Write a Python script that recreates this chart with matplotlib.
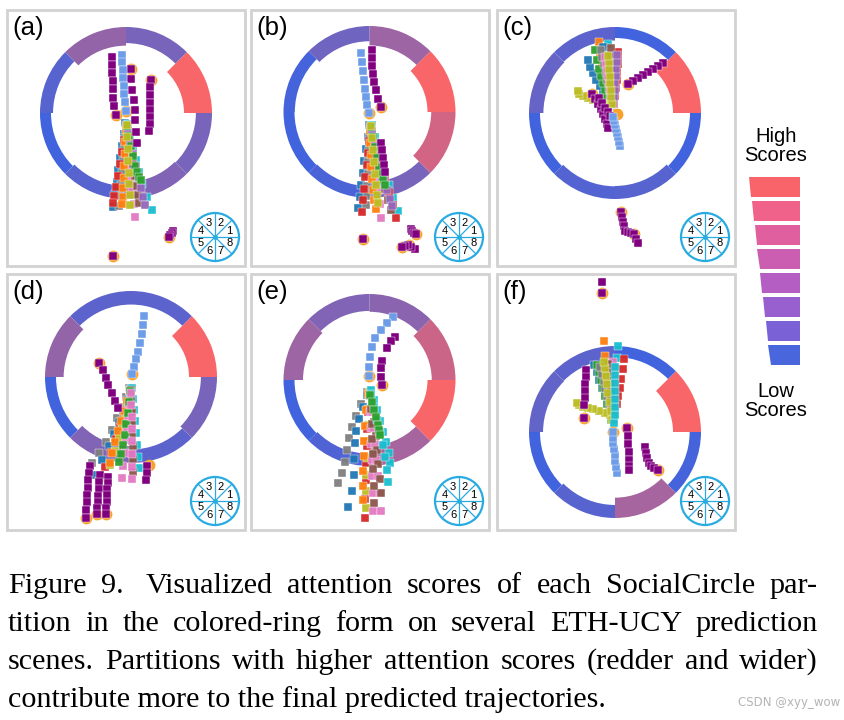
import numpy as np
import matplotlib.pyplot as plt
from matplotlib.patches import Wedge, Rectangle, Circle, Polygon

plt.rcParams['font.family'] = ['Liberation Sans', 'DejaVu Sans']

# ---- panel layout (figure pixels) ----
panel_names = ['(a)', '(b)', '(c)', '(d)', '(e)', '(f)']
crop_x = [0, 248, 495, 0, 248, 495]
crop_y = [0, 0, 0, 270, 270, 270]
frame_l = [7, 251, 497, 7, 251, 497]
frame_t = [10, 10, 10, 274, 274, 274]
frame_w = 238
frame_h = 256

# ring centre (local to crop) and outer radius
ring_cx = [126, 121.5, 120, 131, 121.5, 120]
ring_cy = [113, 112, 113, 107, 110, 162]
ring_r = 86

# attention score of partitions 1..8 (0 = low, 1 = high)
scores_a = [1.0, 0.3, 0.45, 0.12, 0.0, 0.12, 0.35, 0.3]
scores_b = [1.0, 0.5, 0.25, 0.02, 0.0, 0.05, 0.3, 0.78]
scores_c = [1.0, 0.0, 0.15, 0.2, 0.0, 0.1, 0.12, 0.0]
scores_d = [1.0, 0.15, 0.15, 0.45, 0.0, 0.35, 0.15, 0.3]
scores_e = [0.75, 0.4, 0.35, 0.5, 0.0, 0.08, 0.55, 1.0]
scores_f = [1.0, 0.0, 0.15, 0.18, 0.0, 0.12, 0.55, 0.02]

# observed trajectory of the target agent (light blue)
ego_a = ([122, 122, 123, 123, 124, 124, 125, 126], [55, 62, 70, 78, 86, 94, 102, 111])
ego_b = ([113, 114, 115, 116, 117, 118, 119, 121], [53, 62, 71, 80, 89, 97, 105, 113])
ego_c = ([125, 124, 123, 122, 121, 120, 119, 118], [146, 142, 137, 133, 129, 125, 121, 117])
ego_d = ([144, 143, 142, 140, 138, 136, 134, 132], [46, 55, 64, 73, 82, 89, 97, 104])
ego_e = ([145, 139, 133, 127, 124, 122, 121, 121], [47, 53, 60, 68, 77, 87, 97, 106])
ego_f = ([122, 121, 120, 120, 119, 118, 118, 118], [203, 197, 191, 185, 179, 173, 168, 162])

# neighbour trajectories (purple)
nbr_a = [([112, 112, 112, 113, 113, 113, 114, 116], [57, 65, 73, 81, 89, 98, 106, 115]),
         ([131, 131, 132, 134, 135, 135, 136, 137], [69, 79, 90, 100, 110, 120, 132, 143]),
         ([151, 150, 150, 150, 150, 150, 150, 149], [80, 87, 95, 103, 110, 117, 124, 131]),
         ([173, 172, 170, 169], [231, 233, 235, 237]),
         ([113], [256])]
nbr_b = [([124, 124, 124, 125, 126, 128, 130, 133], [50, 58, 66, 74, 82, 90, 99, 107]),
         ([133, 134, 135, 136, 137], [143, 150, 158, 165, 172]),
         ([115], [239]),
         ([163, 164, 166, 168], [229, 231, 233, 234]),
         ([167, 163, 160, 157, 154], [249, 247, 245, 246, 247])]
nbr_c = [([168, 163, 158, 153, 148, 143, 138, 133], [63, 66, 69, 72, 75, 78, 81, 84]),
         ([97, 100, 103, 106, 108, 110, 112, 113], [94, 99, 104, 109, 114, 119, 124, 128]),
         ([104, 107, 110, 113, 115], [98, 103, 108, 112, 116]),
         ([126, 127, 128, 129, 130], [212, 217, 222, 226, 231]),
         ([133, 136, 139, 141, 143], [232, 233, 234, 239, 243])]
nbr_d = [([99, 103, 106, 108, 112, 115, 118], [93, 100, 108, 115, 123, 131, 138]),
         ([90, 89, 88, 88, 87, 87, 86, 86], [196, 203, 210, 218, 225, 232, 240, 248]),
         ([100, 99, 99, 98, 98, 97, 97], [205, 212, 219, 226, 232, 238, 244]),
         ([108, 108, 107, 107, 107, 106, 106], [207, 213, 219, 225, 232, 238, 244]),
         ([147, 147, 146], [196, 203, 210])]
nbr_e = [([147, 143, 139, 134, 133, 133, 134], [67, 71, 78, 91, 98, 107, 115])]
nbr_f = [([107, 107], [12, 23]),
         ([91, 91, 90, 90, 90, 89, 89], [100, 107, 114, 121, 128, 135, 148]),
         ([132, 133, 133, 134, 134, 134, 134], [158, 166, 174, 182, 190, 196, 200]),
         ([150, 151, 152, 154, 156, 159, 163], [177, 183, 188, 193, 196, 198, 200])]

# orange "current position" markers
dots_a = [(126, 111), (116, 115), (131, 69), (151, 80), (169, 237), (113, 256)]
dots_b = [(121, 113), (133, 107), (115, 239), (168, 234), (154, 247), (161, 245)]
dots_c = [(122, 114), (133, 84), (97, 94), (126, 212), (139, 234)]
dots_d = [(132, 104), (99, 93), (86, 248), (97, 244), (106, 244), (149, 195)]
dots_e = [(121, 106), (134, 115)]
dots_f = [(107, 23), (118, 162), (89, 148), (132, 158), (163, 200)]

# predicted trajectories (fan of samples)
fan_a = [('tab:blue', [125, 124, 122, 120, 118, 117, 115, 113], [123, 134, 146, 158, 170, 182, 194, 207]),
         ('tab:cyan', [128, 130, 133, 136, 139, 142, 147, 152], [124, 136, 148, 160, 172, 184, 197, 210]),
         ('tab:gray', [126, 125, 124, 123, 122, 121, 120, 119], [125, 137, 149, 161, 173, 185, 196, 206]),
         ('tab:red', [126, 124, 122, 120, 118, 116, 114, 113], [128, 140, 152, 164, 176, 187, 196, 203]),
         ('tab:pink', [127, 128, 129, 130, 131, 132, 134, 135], [130, 142, 154, 166, 178, 190, 204, 217]),
         ('tab:brown', [127, 129, 131, 133, 135, 137, 138, 139], [128, 140, 152, 164, 176, 186, 195, 203]),
         ('tab:orange', [126, 125, 125, 124, 124, 123, 123, 122], [130, 142, 154, 166, 178, 188, 197, 204]),
         ('tab:purple', [128, 130, 133, 136, 139, 141, 143, 145], [130, 142, 154, 166, 178, 188, 197, 205]),
         ('tab:green', [127, 129, 131, 133, 135, 137, 139, 141], [126, 136, 146, 156, 166, 172, 177, 180]),
         ('tab:olive', [127, 127, 128, 128, 129, 129, 130, 130], [125, 137, 149, 161, 173, 184, 195, 205])]
fan_b = [('tab:blue', [121, 120, 118, 116, 115, 113, 112, 110], [125, 137, 149, 161, 173, 185, 197, 208]),
         ('tab:cyan', [124, 127, 130, 133, 137, 141, 145, 150], [125, 137, 149, 161, 173, 185, 198, 211]),
         ('tab:gray', [122, 121, 121, 120, 120, 119, 119, 118], [126, 138, 150, 162, 174, 186, 196, 205]),
         ('tab:red', [122, 121, 120, 119, 117, 116, 115, 114], [129, 141, 153, 165, 177, 189, 200, 212]),
         ('tab:red', [124, 127, 130, 134, 137, 141, 145, 148], [132, 144, 156, 168, 180, 192, 205, 218]),
         ('tab:pink', [123, 125, 126, 128, 130, 131, 132, 133], [130, 142, 154, 166, 178, 190, 204, 218]),
         ('tab:brown', [123, 125, 128, 131, 134, 137, 140, 143], [129, 141, 153, 165, 177, 189, 200, 210]),
         ('tab:orange', [122, 122, 123, 123, 124, 125, 126, 128], [131, 143, 155, 167, 179, 190, 200, 209]),
         ('tab:purple', [124, 127, 130, 133, 136, 139, 142, 144], [131, 143, 155, 167, 179, 190, 199, 206]),
         ('tab:green', [123, 125, 127, 129, 131, 133, 135, 137], [127, 137, 147, 157, 167, 174, 180, 185]),
         ('tab:olive', [123, 124, 125, 126, 127, 128, 129, 130], [126, 138, 150, 162, 174, 185, 195, 203])]
fan_c = [('tab:cyan', [117, 116, 116, 115, 115, 114, 114, 113], [106, 98, 90, 82, 74, 66, 55, 44]),
         ('tab:orange', [116, 114, 113, 111, 109, 107, 105, 104], [106, 98, 90, 82, 74, 64, 54, 42]),
         ('tab:blue', [114, 111, 108, 105, 101, 98, 95, 93], [106, 99, 92, 86, 80, 73, 67, 60]),
         ('tab:blue', [116, 115, 114, 113, 112, 111, 110, 108], [105, 97, 89, 81, 73, 65, 56, 47]),
         ('tab:green', [114, 112, 110, 108, 106, 104, 102, 100], [104, 97, 90, 83, 76, 69, 60, 50]),
         ('tab:gray', [116, 115, 114, 112, 111, 109, 107, 106], [104, 96, 88, 80, 72, 64, 57, 50]),
         ('tab:red', [119, 120, 121, 122, 122, 123, 123, 123], [104, 96, 88, 80, 72, 64, 58, 52]),
         ('tab:pink', [117, 116, 115, 114, 113, 112, 111, 110], [104, 97, 90, 83, 76, 70, 63, 57]),
         ('tab:brown', [118, 118, 118, 117, 117, 117, 116, 116], [104, 96, 88, 80, 72, 64, 56, 48]),
         ('tab:purple', [118, 119, 120, 120, 121, 121, 122, 122], [104, 97, 90, 83, 76, 69, 62, 55]),
         ('tab:olive', [113, 108, 103, 98, 93, 88, 84, 83], [106, 104, 102, 100, 98, 96, 94, 91]),
         ('tab:olive', [117, 116, 116, 115, 115, 114, 114, 113], [104, 97, 90, 83, 76, 69, 62, 56])]
fan_d = [('tab:gray', [129, 126, 122, 117, 112, 106, 99, 92], [118, 127, 137, 148, 160, 172, 183, 193]),
         ('tab:blue', [130, 127, 123, 119, 114, 109, 102, 94], [119, 130, 141, 152, 164, 176, 190, 205]),
         ('tab:red', [130, 127, 124, 120, 116, 111, 105, 99], [121, 133, 145, 157, 169, 182, 197, 211]),
         ('tab:olive', [130, 128, 125, 122, 119, 115, 110, 105], [120, 132, 144, 156, 168, 181, 195, 208]),
         ('tab:orange', [130, 127, 124, 121, 118, 115, 112, 110], [121, 131, 141, 151, 161, 172, 183, 193]),
         ('tab:cyan', [132, 133, 134, 135, 136, 137, 138, 139], [118, 129, 140, 151, 163, 175, 187, 198]),
         ('tab:brown', [131, 131, 132, 132, 132, 133, 133, 133], [120, 131, 142, 153, 164, 176, 189, 202]),
         ('tab:pink', [130, 129, 128, 127, 126, 125, 123, 122], [122, 134, 146, 158, 170, 183, 196, 208]),
         ('tab:green', [130, 129, 128, 126, 125, 123, 121, 119], [121, 132, 143, 154, 165, 175, 184, 192]),
         ('tab:pink', [131, 131, 132, 132, 132, 132, 132, 132], [123, 135, 147, 159, 171, 184, 197, 209])]
fan_e = [('tab:gray', [119, 113, 108, 104, 101, 99, 97, 94, 90], [122, 134, 146, 157, 168, 180, 192, 203, 213]),
         ('tab:blue', [119, 115, 111, 108, 107, 106, 106, 104, 100], [125, 137, 149, 161, 173, 189, 205, 221, 237]),
         ('tab:red', [121, 120, 119, 119, 118, 118, 117, 117], [125, 142, 159, 176, 193, 210, 229, 248]),
         ('tab:olive', [121, 120, 120, 119, 119, 118, 118, 118], [122, 139, 155, 171, 188, 205, 221, 238]),
         ('tab:orange', [120, 118, 117, 116, 116, 115, 115, 115], [124, 140, 156, 171, 186, 201, 216, 230]),
         ('tab:pink', [122, 122, 123, 123, 124, 124, 125, 125], [126, 142, 158, 174, 190, 206, 223, 241]),
         ('tab:pink', [123, 124, 125, 127, 128, 130, 132, 133], [126, 142, 158, 174, 190, 206, 223, 241]),
         ('tab:brown', [123, 125, 126, 128, 129, 130, 132, 133], [124, 138, 152, 166, 180, 194, 209, 223]),
         ('tab:brown', [122, 123, 124, 124, 125, 125, 126, 126], [124, 139, 154, 169, 184, 199, 216, 233]),
         ('tab:cyan', [123, 126, 129, 132, 135, 138, 141, 142], [120, 130, 140, 151, 162, 172, 183, 193]),
         ('tab:cyan', [123, 126, 129, 132, 135, 137, 139, 140], [124, 137, 150, 163, 175, 187, 200, 212]),
         ('tab:green', [122, 124, 126, 128, 130, 131, 132], [125, 132, 140, 147, 155, 160, 165])]
fan_f = [('tab:orange', [117, 116, 115, 114, 113, 112, 110, 109], [150, 140, 130, 120, 110, 99, 86, 71]),
         ('tab:cyan', [118, 118, 119, 119, 120, 121, 122, 123], [150, 140, 130, 120, 110, 99, 88, 76]),
         ('tab:red', [119, 120, 122, 123, 125, 126, 128, 129], [150, 142, 134, 126, 118, 109, 99, 89]),
         ('tab:blue', [116, 114, 112, 110, 107, 104, 102, 99], [150, 142, 134, 126, 118, 110, 102, 95]),
         ('tab:green', [116, 114, 112, 110, 108, 106, 104, 102], [150, 142, 134, 126, 118, 110, 102, 95]),
         ('tab:gray', [117, 115, 114, 112, 110, 109, 107, 105], [150, 142, 134, 126, 118, 111, 104, 97]),
         ('tab:pink', [119, 119, 119, 118, 118, 118, 118, 118], [150, 142, 134, 126, 118, 110, 101, 92]),
         ('tab:brown', [118, 117, 117, 116, 116, 115, 114, 113], [150, 142, 134, 126, 118, 110, 102, 94]),
         ('tab:olive', [115, 110, 104, 98, 93, 88, 84, 82], [145, 143, 141, 139, 138, 137, 135, 133]),
         ('tab:olive', [117, 116, 115, 113, 112, 111, 110, 109], [150, 141, 132, 123, 114, 106, 98, 92]),
         ('tab:cyan', [119, 120, 120, 120, 120, 120, 120, 120], [153, 145, 137, 129, 121, 113, 105, 97])]

scores = [scores_a, scores_b, scores_c, scores_d, scores_e, scores_f]
egos = [ego_a, ego_b, ego_c, ego_d, ego_e, ego_f]
nbrs = [nbr_a, nbr_b, nbr_c, nbr_d, nbr_e, nbr_f]
dots = [dots_a, dots_b, dots_c, dots_d, dots_e, dots_f]
fans = [fan_a, fan_b, fan_c, fan_d, fan_e, fan_f]

# legend bar colours, high -> low
legend_colors = ['#f8646a', '#f0628a', '#e05f9f', '#cc5eb2',
                 '#b45ec4', '#985fcf', '#7a61d6', '#4a66dc']

caption_lines = ['Figure 9.  Visualized attention scores of each SocialCircle par-',
                 'tition in the colored-ring form on several ETH-UCY prediction',
                 'scenes. Partitions with higher attention scores (redder and wider)',
                 'contribute more to the final predicted trajectories.']

low_rgb = np.array([65, 99, 221]) / 255
high_rgb = np.array([249, 102, 106]) / 255


def score_color(s):
    return tuple(low_rgb + s * (high_rgb - low_rgb))


fig = plt.figure(figsize=(8.44, 7.2), dpi=100)
ax = fig.add_axes([0, 0, 1, 1])
ax.set_xlim(0, 844)
ax.set_ylim(720, 0)
ax.axis('off')

sq = 5.4  # square marker size

for p in range(6):
    ox, oy = crop_x[p], crop_y[p]
    # frame
    ax.add_patch(Rectangle((frame_l[p], frame_t[p]), frame_w, frame_h, fill=False,
                           edgecolor='#d2d2d2', lw=2, zorder=1))
    ax.text(frame_l[p] + 5, frame_t[p] + 6, panel_names[p], fontsize=18.5,
            va='top', ha='left', zorder=10)

    # coloured ring, partition k covers 45(k-1)..45k degrees (counter-clockwise on screen)
    cx, cy = ox + ring_cx[p], oy + ring_cy[p]
    for k, s in enumerate(scores[p]):
        w = 11 + 17 * s
        ax.add_patch(Wedge((cx, cy), ring_r, -45 * (k + 1), -45 * k, width=w,
                           facecolor=score_color(s), edgecolor='none', zorder=2))

    # predicted samples
    for c, xs, ys in fans[p]:
        ax.plot(ox + np.array(xs), oy + np.array(ys), 's', color=c, ms=sq,
                mec='white', mew=0.3, alpha=0.95, zorder=3)

    # orange current-position markers
    dx, dy = zip(*dots[p])
    ax.plot(ox + np.array(dx), oy + np.array(dy), 'o', color='#f7a12b', ms=8.5,
            mec='none', zorder=4)

    for xs, ys in nbrs[p]:
        ax.plot(ox + np.array(xs), oy + np.array(ys), 's', color='#800080', ms=sq,
                mec='white', mew=0.3, zorder=5)
    ex, ey = egos[p]
    ax.plot(ox + np.array(ex), oy + np.array(ey), 's', color='#6d9de9', ms=sq,
            mec='white', mew=0.3, zorder=5)

    # partition index icon
    icx = frame_l[p] + frame_w - 30
    icy = frame_t[p] + frame_h - 29
    ax.add_patch(Circle((icx, icy), 24, facecolor='white', edgecolor='#29abe2',
                        lw=1.6, zorder=6))
    for a in range(0, 180, 45):
        t = np.deg2rad(a)
        ax.plot([icx - 24 * np.cos(t), icx + 24 * np.cos(t)],
                [icy + 24 * np.sin(t), icy - 24 * np.sin(t)],
                color='#29abe2', lw=0.9, zorder=7)
    ax.plot(icx, icy, 'o', color='#29abe2', ms=2.5, zorder=7)
    for k in range(8):
        t = np.deg2rad(22.5 + 45 * k)
        ax.text(icx + 15.5 * np.cos(t), icy - 15.5 * np.sin(t), str(k + 1),
                fontsize=8, ha='center', va='center', zorder=8)

# legend
ax.text(776, 146, 'High\nScores', fontsize=14.5, ha='center', va='center', linespacing=1.05)
ax.text(776, 401, 'Low\nScores', fontsize=14.5, ha='center', va='center', linespacing=1.05)
bar_top, bar_h, bar_pitch = 177, 19.5, 24
for i, c in enumerate(legend_colors):
    y0 = bar_top + i * bar_pitch
    y1 = y0 + bar_h
    xl0 = 749 + (y0 - bar_top) * 22 / 191
    xl1 = 749 + (y1 - bar_top) * 22 / 191
    ax.add_patch(Polygon([(xl0, y0), (800, y0), (800, y1), (xl1, y1)],
                         closed=True, facecolor=c, edgecolor='none'))

# caption, justified like the paper
renderer = fig.canvas.get_renderer()
cap_left, cap_right = 8, 818
baselines = [593, 631, 669, 707]
cap_size = 21.7
for i, line in enumerate(caption_lines):
    if i == len(caption_lines) - 1:
        ax.text(cap_left, baselines[i], line, fontsize=cap_size, family='Liberation Serif',
                va='baseline', ha='left')
        continue
    words = line.split()
    texts = [ax.text(0, baselines[i], w, fontsize=cap_size, family='Liberation Serif',
                     va='baseline', ha='left') for w in words]
    widths = [t.get_window_extent(renderer=renderer).width for t in texts]
    extra = 7 if i == 0 else 0
    gap = (cap_right - cap_left - sum(widths) - extra) / (len(words) - 1)
    x = cap_left
    for j, (t, wd) in enumerate(zip(texts, widths)):
        t.set_x(x)
        x += wd + gap
        if i == 0 and j == 1:
            x += extra

ax.text(840, 706, 'CSDN @xyy_wow', fontsize=8.5, color='#b4b4b4', ha='right',
        va='baseline', family='DejaVu Sans')

fig.savefig('out.png', dpi=100)
